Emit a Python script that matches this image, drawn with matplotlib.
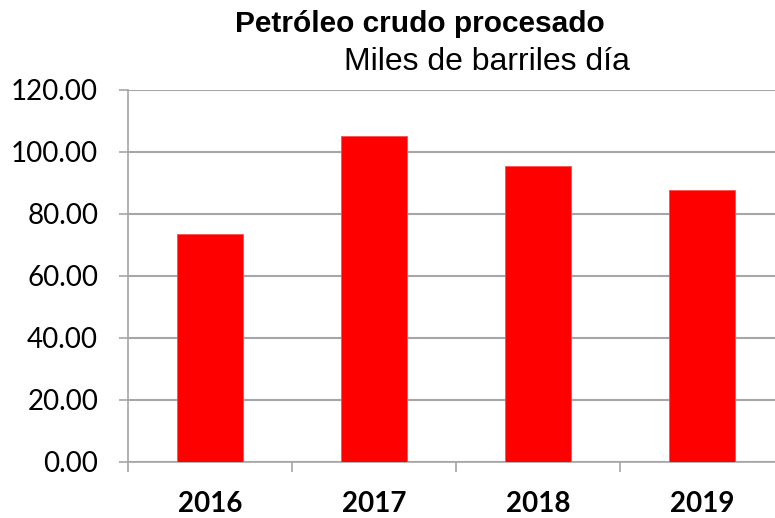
import matplotlib
matplotlib.use("Agg")
import matplotlib.pyplot as plt
from matplotlib.ticker import FixedLocator, NullFormatter

years = ["2016", "2017", "2018", "2019"]
values = [73.7, 105.2, 95.5, 87.6]
yticks = [0, 20, 40, 60, 80, 100, 120]

W, H = 775, 518
fig = plt.figure(figsize=(W / 100, H / 100), dpi=100)
ax = fig.add_axes([128 / W, (H - 462) / H, 656 / W, 372 / H])

x = list(range(len(years)))
ax.bar(x, values, width=0.4, color="#ff0000", edgecolor="#ff5050", linewidth=0.6, zorder=3)

ax.set_xlim(-0.5, len(years) - 0.5)
ax.set_ylim(0, 120)
ax.set_yticks(yticks)
ax.set_yticklabels([f"{v:.2f}" for v in yticks], fontsize=20, family="Lato")
ax.yaxis.grid(True, color="#a6a6a6", linewidth=1.5, zorder=0)
ax.tick_params(axis="y", length=6.5, width=1.2, color="#a6a6a6", pad=15)

ax.xaxis.set_major_locator(FixedLocator([i - 0.5 for i in range(len(years) + 1)]))
ax.xaxis.set_major_formatter(NullFormatter())
ax.xaxis.set_minor_locator(FixedLocator(x))
ax.set_xticklabels(years, minor=True, fontsize=20, family="Lato", fontweight="bold")
ax.tick_params(axis="x", which="major", length=7.2, width=1.2, color="#a6a6a6")
ax.tick_params(axis="x", which="minor", length=0, pad=21)

for s in ["top", "right"]:
    ax.spines[s].set_visible(False)
for s in ["left", "bottom"]:
    ax.spines[s].set_color("#a6a6a6")
    ax.spines[s].set_linewidth(1.2)

fig.text(420 / W, 1 - 24 / H, "Petróleo crudo procesado", ha="center", va="center",
         fontsize=21.5, fontweight="bold", family="Liberation Sans")
fig.text(487 / W, 1 - 62 / H, "Miles de barriles día", ha="center", va="center",
         fontsize=23, family="Liberation Sans")

fig.savefig("out.png", dpi=100)
